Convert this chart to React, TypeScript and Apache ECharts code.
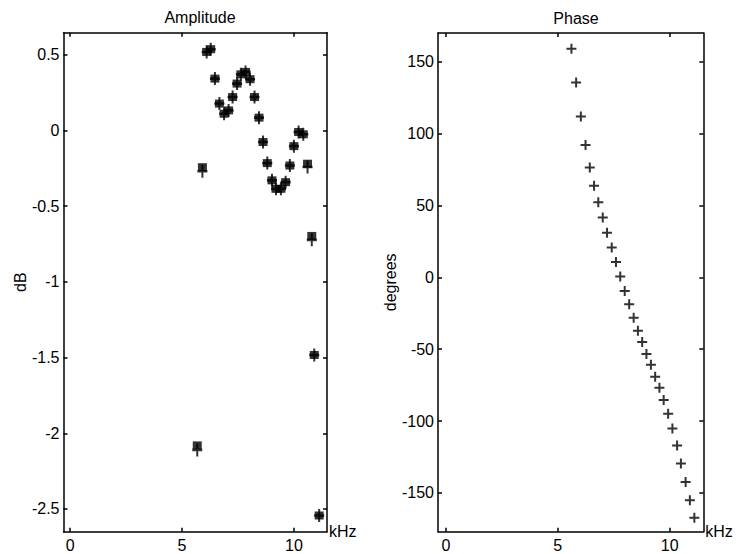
import React, { useEffect, useRef } from "react";
import * as echarts from "echarts";

const xTicks = [0, 5, 10];
const ampTicks = [0.5, 0, -0.5, -1, -1.5, -2, -2.5];
const phaseTicks = [150, 100, 50, 0, -50, -100, -150];

const ampFreq = [5.68, 5.91, 6.10, 6.28, 6.47, 6.67, 6.88, 7.08, 7.26, 7.46, 7.63, 7.84, 8.04, 8.24, 8.44, 8.62, 8.81, 9.02, 9.20, 9.42, 9.63, 9.82, 10.00, 10.21, 10.42, 10.61, 10.80, 10.91, 11.13];
const ampSquare = [-2.08, -0.243, 0.518, 0.536, 0.342, 0.177, 0.11, 0.132, 0.22, 0.309, 0.37, 0.386, 0.338, 0.22, 0.084, -0.077, -0.216, -0.33, -0.386, -0.386, -0.342, -0.232, -0.104, -0.011, -0.026, -0.22, -0.697, -1.483, -2.543];
const ampPlus = [-2.11, -0.27, 0.518, 0.536, 0.342, 0.177, 0.11, 0.132, 0.22, 0.309, 0.37, 0.386, 0.338, 0.22, 0.084, -0.077, -0.216, -0.33, -0.386, -0.386, -0.342, -0.232, -0.104, -0.011, -0.026, -0.242, -0.723, -1.483, -2.543];

const phaseFreq = [5.61, 5.82, 6.03, 6.24, 6.43, 6.62, 6.81, 7.01, 7.20, 7.41, 7.60, 7.79, 7.99, 8.19, 8.39, 8.58, 8.77, 8.96, 9.16, 9.35, 9.54, 9.73, 9.93, 10.12, 10.33, 10.50, 10.71, 10.90, 11.10];
const phaseDeg = [159.1, 135.5, 111.9, 92.1, 76.4, 63.7, 52.3, 41.7, 31.0, 20.8, 10.6, 0.6, -9.5, -18.8, -28.1, -37.1, -45.0, -53.3, -60.9, -69.1, -76.9, -85.3, -95.0, -105.2, -117.0, -129.5, -142.5, -155.2, -167.3];

const FONT = "'Liberation Sans', Arial, Helvetica, sans-serif";
const CROSS = "path://M4,0H6V4H10V6H6V10H4V6H0V4H4Z";

const line = { color: "#000", width: 1.5 };
const textBase = { color: "#000", fontFamily: FONT, fontSize: 16 };

function xAxes(gridIndex: number, min: number, max: number) {
  return [
    {
      type: "value", gridIndex, min, max, position: "bottom",
      axisLine: { show: true, onZero: false, lineStyle: line },
      axisTick: { show: true, inside: true, length: 4, customValues: xTicks, lineStyle: line },
      axisLabel: { show: true, customValues: xTicks, margin: 6, ...textBase },
      splitLine: { show: false },
      name: "kHz", nameLocation: "end", nameGap: 2,
      nameTextStyle: { ...textBase, verticalAlign: "middle", padding: [0, 0, 8, 0] },
    },
    {
      type: "value", gridIndex, min, max, position: "top",
      axisLine: { show: true, onZero: false, lineStyle: line },
      axisTick: { show: true, inside: true, length: 4, customValues: xTicks, lineStyle: line },
      axisLabel: { show: false },
      splitLine: { show: false },
    },
  ];
}

function yAxes(gridIndex: number, min: number, max: number, ticks: number[], name: string, nameGap: number) {
  return [
    {
      type: "value", gridIndex, min, max, position: "left",
      axisLine: { show: true, onZero: false, lineStyle: line },
      axisTick: { show: true, inside: true, length: 4, customValues: ticks, lineStyle: line },
      axisLabel: { show: true, customValues: ticks, margin: 4, ...textBase },
      splitLine: { show: false },
      name, nameLocation: "middle", nameGap,
      nameTextStyle: { ...textBase },
    },
    {
      type: "value", gridIndex, min, max, position: "right",
      axisLine: { show: true, onZero: false, lineStyle: line },
      axisTick: { show: true, inside: true, length: 4, customValues: ticks, lineStyle: line },
      axisLabel: { show: false },
      splitLine: { show: false },
    },
  ];
}

export default function App() {
  const ref = useRef<HTMLDivElement>(null);
  useEffect(() => {
    if (!ref.current) return;
    const chart = echarts.init(ref.current, null, { renderer: "svg" });
    chart.setOption({
      animation: false,
      backgroundColor: "#fff",
      title: [
        { text: "Amplitude", left: 195, top: 4, textAlign: "center", textStyle: { ...textBase, fontWeight: "normal" } },
        { text: "Phase", left: 571, top: 5, textAlign: "center", textStyle: { ...textBase, fontWeight: "normal" } },
      ],
      grid: [
        { left: 63.5, right: 410, top: 32.7, bottom: 22.3 },
        { left: 438, right: 33.7, top: 33, bottom: 22.3 },
      ],
      xAxis: [...xAxes(0, -0.3, 11.48), ...xAxes(1, -0.35, 11.5)],
      yAxis: [...yAxes(0, -2.65, 0.645, ampTicks, "dB", 33), ...yAxes(1, -177, 170, phaseTicks, "degrees", 40)],
      series: [
        {
          type: "scatter", xAxisIndex: 0, yAxisIndex: 0, symbol: "rect", symbolSize: [9, 8],
          itemStyle: { color: "#000" }, silent: true,
          data: ampFreq.map((f, i) => [f, ampSquare[i]]),
        },
        {
          type: "scatter", xAxisIndex: 0, yAxisIndex: 0, symbol: CROSS, symbolSize: [10, 13],
          itemStyle: { color: "#000" }, silent: true,
          data: ampFreq.map((f, i) => [f, ampPlus[i]]),
        },
        {
          type: "scatter", xAxisIndex: 2, yAxisIndex: 2, symbol: CROSS, symbolSize: [10, 10],
          itemStyle: { color: "#000" }, silent: true,
          data: phaseFreq.map((f, i) => [f, phaseDeg[i]]),
        },
      ],
    });
    return () => chart.dispose();
  }, []);
  return <div ref={ref} style={{ position: "fixed", left: 0, top: 0, width: 737, height: 554, background: "#fff" }} />;
}
